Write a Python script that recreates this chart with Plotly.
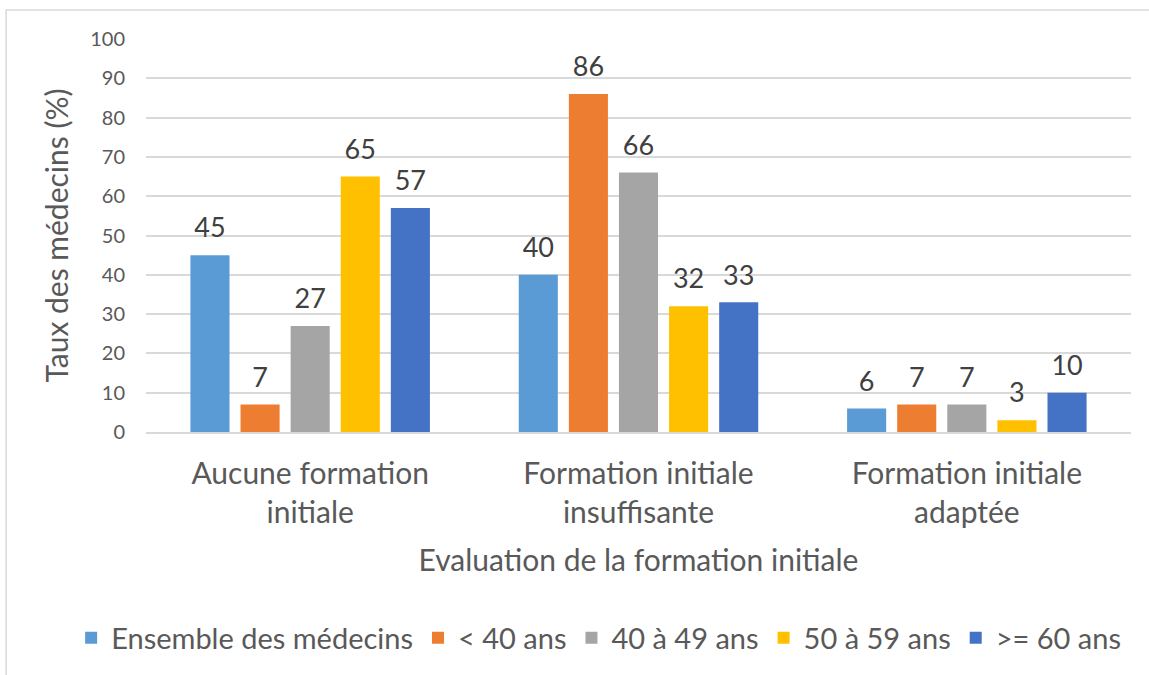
import plotly.graph_objects as go

categories = ["Aucune formation<br>initiale", "Formation initiale<br>insuffisante", "Formation initiale<br>adaptée"]
series_names = ["Ensemble des médecins", "< 40 ans", "40 à 49 ans", "50 à 59 ans", ">= 60 ans"]
ensemble = [45, 40, 6]
moins_40 = [7, 86, 7]
de_40_49 = [27, 66, 7]
de_50_59 = [65, 32, 3]
plus_60 = [57, 33, 10]
y_ticks = [0, 10, 20, 30, 40, 50, 60, 70, 80, 90, 100]

couleurs = ["#5B9BD5", "#ED7D31", "#A5A5A5", "#FFC000", "#4472C4"]
valeurs = [ensemble, moins_40, de_40_49, de_50_59, plus_60]

police = "Lato"
gris = "#595959"
ecart = 0.237

fig = go.Figure()
for nom, vals, c in zip(series_names, valeurs, couleurs):
    fig.add_trace(go.Bar(
        x=categories, y=vals, name=nom,
        marker=dict(color=c, line=dict(width=0)),
        hoverinfo="x+y+name",
    ))
# étiquettes de valeurs : points invisibles décalés comme les barres
for nom, vals in zip(series_names, valeurs):
    fig.add_trace(go.Scatter(
        x=categories, y=vals, mode="markers+text", text=vals,
        textposition="top center", showlegend=False, hoverinfo="skip",
        marker=dict(size=16, color="rgba(0,0,0,0)"), cliponaxis=False,
        textfont=dict(size=27, color="#404040", family=police),
    ))

fig.update_layout(
    width=1149, height=675,
    margin=dict(l=146, r=18, t=39, b=243, autoexpand=False),
    paper_bgcolor="white", plot_bgcolor="white",
    barmode="group", bargap=ecart, bargroupgap=0.22,
    scattermode="group", scattergap=ecart,
    font=dict(family=police, color=gris),
    showlegend=True,
    legend=dict(orientation="h", x=-0.076, xanchor="left",
                y=-0.524, yanchor="middle",
                font=dict(size=29, color=gris, family=police),
                itemsizing="constant", traceorder="normal"),
    shapes=[dict(type="rect", xref="paper", yref="paper",
                 x0=-0.142, x1=1.2, y0=-1.0, y1=1.074,
                 line=dict(color="#D9D9D9", width=1.5), layer="below")],
)
fig.update_xaxes(
    showgrid=False, showline=True, linecolor="#D9D9D9", linewidth=2,
    ticks="", ticklabelstandoff=14, tickfont=dict(size=30, color=gris, family=police),
    title=dict(text="Evaluation de la formation initiale",
               font=dict(size=30, color=gris, family=police), standoff=22),
)
fig.update_yaxes(
    range=[0, 100], tickvals=y_ticks, showgrid=True, gridcolor="#D9D9D9", gridwidth=1.5,
    zeroline=False, showline=False, ticks="", ticklen=0, ticklabelstandoff=20,
    tickfont=dict(size=20, color=gris, family=police),
    title=dict(text="Taux des médecins (%)",
               font=dict(size=30, color=gris, family=police), standoff=12),
)

fig.write_html("out.html", config={"displayModeBar": False},
               post_script="document.body.style.margin='0';")
